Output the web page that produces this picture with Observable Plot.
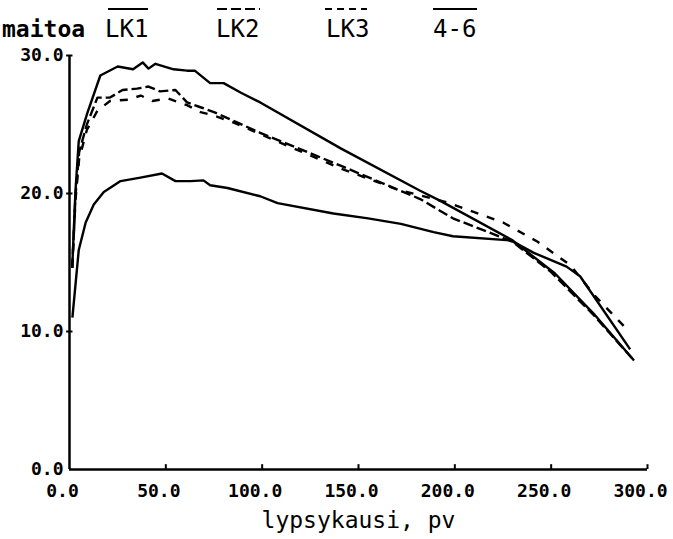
<!DOCTYPE html>
<html><head><meta charset="utf-8">
<script src="https://cdn.jsdelivr.net/npm/d3@7"></script>
<script src="https://cdn.jsdelivr.net/npm/@observablehq/plot@0.6"></script>
<style>
body{margin:0;background:#fff;}
#wrap{position:relative;width:673px;height:539px;overflow:hidden;font-family:"DejaVu Sans Mono",monospace;color:#000;background:#fff;}
#wrap svg{position:absolute;left:0;top:0;}
.hdr{position:absolute;white-space:nowrap;line-height:1;z-index:2;}
.ol{position:absolute;height:2px;z-index:2;}
</style></head><body>
<div id="wrap"></div>
<script>
// tick values
const xTicks = [0, 50, 100, 150, 200, 250, 300];
const yTicks = [0, 10, 20, 30];
const yLabel = "maitoa";
const xLabel = "lypsykausi, pv";
const seriesNames = ["LK1", "LK2", "LK3", "4-6"];

// LK1 (solid, lowest peak)
const lk1Day  = [1.5, 4.8, 8.4, 12.6, 17.8, 26.5, 36.8, 48, 55, 62.8, 69.5, 73, 82, 99, 108, 137, 155, 172, 189, 199, 229, 241, 258, 265, 291];
const lk1Milk = [11.0, 15.9, 17.9, 19.2, 20.1, 20.9, 21.15, 21.45, 20.9, 20.9, 20.95, 20.6, 20.4, 19.8, 19.3, 18.55, 18.2, 17.8, 17.2, 16.9, 16.6, 15.7, 14.7, 14.0, 8.7];

// LK2 (long dashes)
const lk2Day  = [1.4, 3.1, 5, 9, 14.5, 21, 27.5, 35, 41, 47, 55, 61, 68, 75, 87, 99, 141, 182, 199, 222, 230, 250, 272, 293];
const lk2Milk = [14.6, 19.8, 23.0, 25.0, 26.95, 26.95, 27.5, 27.6, 27.75, 27.4, 27.5, 26.6, 26.25, 25.9, 25.15, 24.4, 22.0, 19.6, 18.2, 16.95, 16.5, 14.3, 11.2, 7.9];

// LK3 (short dashes)
const lk3Day  = [1.4, 3.1, 5, 9, 14.5, 21, 30.6, 37, 43, 51, 61, 68, 75, 85, 99, 141, 170, 196, 225, 243, 260, 272, 289];
const lk3Milk = [14.6, 19.5, 22.5, 24.6, 26.0, 26.7, 26.8, 27.1, 26.7, 26.9, 26.4, 25.9, 25.65, 25.15, 24.3, 21.8, 20.3, 19.35, 17.9, 16.5, 14.8, 12.7, 10.2];

// 4-6 (solid, highest peak)
const lk46Day  = [1.4, 3.1, 4.8, 9.2, 16, 25, 33, 38, 41, 44.6, 54, 61, 65, 73, 80, 89, 99, 141, 182, 192, 230, 252, 272, 293];
const lk46Milk = [14.6, 20.2, 23.8, 25.8, 28.55, 29.2, 29.0, 29.5, 29.05, 29.4, 29.0, 28.9, 28.9, 28.0, 28.0, 27.3, 26.6, 23.25, 20.2, 19.5, 16.6, 14.2, 11.3, 7.9];

const dashes = ["none", "10,4", "8,9", "none"];
const days = [lk1Day, lk2Day, lk3Day, lk46Day];
const milks = [lk1Milk, lk2Milk, lk3Milk, lk46Milk];

const lineMarks = seriesNames.map((name, i) =>
  Plot.line(days[i].map((d, j) => ({day: d, milk: milks[i][j], s: name})), {
    x: "day", y: "milk", stroke: "black", strokeWidth: 2.4,
    strokeDasharray: dashes[i], strokeLinejoin: "round", strokeLinecap: "butt"
  })
);

const plot = Plot.plot({
  width: 673, height: 539,
  marginLeft: 69, marginRight: 26, marginTop: 55, marginBottom: 70,
  x: {domain: [0, 300]},
  y: {domain: [0, 30]},
  style: {fontFamily: "DejaVu Sans Mono", fontSize: "18px", fontWeight: "bold", background: "white", color: "black", overflow: "visible"},
  marks: [
    Plot.ruleX([0], {y1: 0, y2: 30, strokeWidth: 2.5}),
    Plot.ruleY([0], {x1: 0, x2: 300, strokeWidth: 2.5}),
    Plot.ruleX(xTicks.slice(1), {y1: 0, y2: 0.35, strokeWidth: 2}),
    Plot.ruleY(yTicks.slice(1), {x1: -1.5, x2: 1.8, strokeWidth: 2}),
    Plot.axisX({ticks: xTicks, tickSize: 0, tickPadding: 15, tickFormat: d => d.toFixed(1), dx: -7, label: null}),
    Plot.axisY({ticks: yTicks, tickSize: 0, tickPadding: 6, tickFormat: d => d.toFixed(1), label: null}),
    Plot.text([xLabel], {frameAnchor: "bottom", dy: 51, fontSize: 23, fontWeight: "normal", lineAnchor: "middle"}),
    ...lineMarks
  ]
});

const wrap = document.getElementById("wrap");
wrap.appendChild(plot);

// header: y label and legend
function addText(txt, left, top, size, weight) {
  const d = document.createElement("div");
  d.className = "hdr";
  d.textContent = txt;
  d.style.left = left + "px"; d.style.top = top + "px";
  d.style.fontSize = size + "px"; d.style.fontWeight = weight;
  wrap.appendChild(d);
}
addText(yLabel, 2, 17.6, 23, "bold");
const legendLeft = [105, 216, 326, 433];
const legendLine = [[108, 40], [217, 43], [325, 42], [433, 44]];
const legendBg = [
  "#000",
  "repeating-linear-gradient(90deg,#000 0 10px,transparent 10px 14px)",
  "repeating-linear-gradient(90deg,#000 0 7px,transparent 7px 12px)",
  "#000"
];
seriesNames.forEach((n, i) => {
  addText(n, legendLeft[i], 16.7, 24, "normal");
  const l = document.createElement("div");
  l.className = "ol";
  l.style.left = legendLine[i][0] + "px";
  l.style.width = legendLine[i][1] + "px";
  l.style.top = "8px";
  l.style.background = legendBg[i];
  wrap.appendChild(l);
});
</script>
</body></html>
